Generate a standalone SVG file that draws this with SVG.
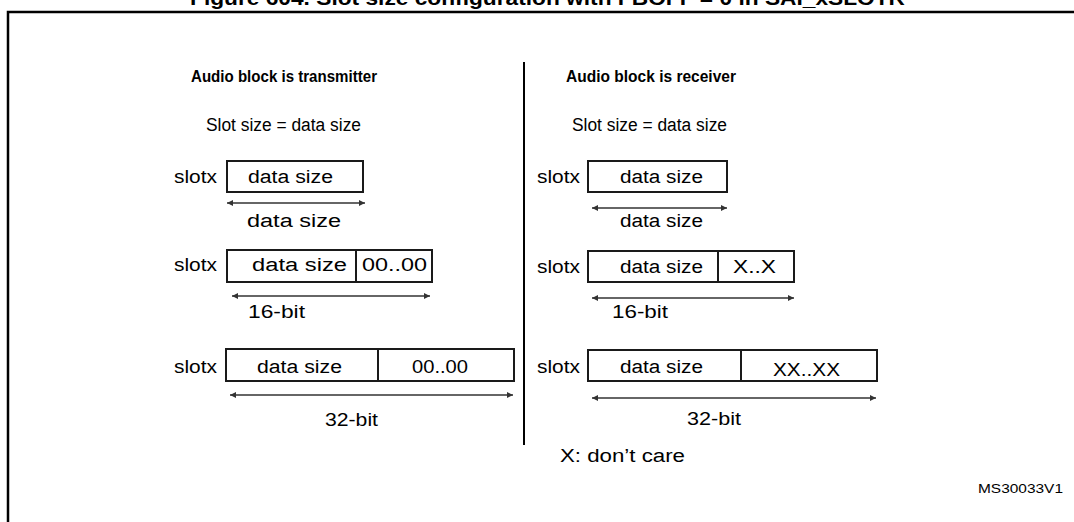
<svg xmlns="http://www.w3.org/2000/svg" width="1074" height="522" viewBox="0 0 1074 522">
<style>
text{font-family:"Liberation Sans",Arial,sans-serif;fill:#000}
.t{font-size:18px}
.b{font-weight:bold;font-size:17px}
.box{fill:#fff;stroke:#1a1a1a;stroke-width:2}
.div{stroke:#1a1a1a;stroke-width:2}
.arr{stroke:#333;stroke-width:1.3;fill:none;marker-start:url(#ah);marker-end:url(#ah)}
.frame{stroke:#000;stroke-width:2.5;fill:none}
</style>
<defs>
<marker id="ah" viewBox="0 0 10 10" refX="10" refY="5" markerWidth="8" markerHeight="6" markerUnits="userSpaceOnUse" orient="auto-start-reverse">
<path d="M0,0 L10,5 L0,10 z" fill="#333"/>
</marker>
</defs>
<rect width="1074" height="522" fill="#fff"/>
<g id="title">
<text x="190" y="5" style="font-weight:bold;font-size:20px" textLength="715" lengthAdjust="spacingAndGlyphs">Figure 604. Slot size configuration with FBOFF = 0 in SAI_xSLOTR</text>
</g>
<g id="frame">
<path class="frame" d="M8,522 V12 H1074"/>
<line x1="524" y1="62" x2="524" y2="445" stroke="#000" stroke-width="2"/>
</g>
<g id="heading-tx">
<text class="b" x="191" y="82" textLength="186" lengthAdjust="spacingAndGlyphs">Audio block is transmitter</text>
<text class="t" x="206" y="131" textLength="155" lengthAdjust="spacingAndGlyphs">Slot size = data size</text>
</g>
<g id="heading-rx">
<text class="b" x="566" y="82" textLength="170" lengthAdjust="spacingAndGlyphs">Audio block is receiver</text>
<text class="t" x="572" y="131" textLength="155" lengthAdjust="spacingAndGlyphs">Slot size = data size</text>
</g>
<g id="tx-row1">
<text class="t" x="174" y="183" textLength="43" lengthAdjust="spacingAndGlyphs">slotx</text>
<rect class="box" x="227" y="161" width="136" height="31"/>
<text class="t" x="248" y="183" textLength="85" lengthAdjust="spacingAndGlyphs">data size</text>
<text class="t" x="247" y="227" textLength="94" lengthAdjust="spacingAndGlyphs">data size</text>
</g>
<g id="tx-row2">
<text class="t" x="174" y="271" textLength="43" lengthAdjust="spacingAndGlyphs">slotx</text>
<rect class="box" x="227" y="250" width="205" height="32"/>
<line class="div" x1="356" y1="250" x2="356" y2="282"/>
<text class="t" x="252" y="271" textLength="95" lengthAdjust="spacingAndGlyphs">data size</text>
<text class="t" x="362" y="271" textLength="65" lengthAdjust="spacingAndGlyphs">00..00</text>
<text class="t" x="248" y="318" textLength="57" lengthAdjust="spacingAndGlyphs">16-bit</text>
</g>
<g id="tx-row3">
<text class="t" x="174" y="373" textLength="43" lengthAdjust="spacingAndGlyphs">slotx</text>
<rect class="box" x="226" y="349" width="288" height="32"/>
<line class="div" x1="378" y1="349" x2="378" y2="381"/>
<text class="t" x="257" y="373" textLength="85" lengthAdjust="spacingAndGlyphs">data size</text>
<text class="t" x="412" y="373" textLength="56" lengthAdjust="spacingAndGlyphs">00..00</text>
<text class="t" x="325" y="426" textLength="53" lengthAdjust="spacingAndGlyphs">32-bit</text>
</g>
<g id="rx-row1">
<text class="t" x="537" y="183" textLength="43" lengthAdjust="spacingAndGlyphs">slotx</text>
<rect class="box" x="588" y="161" width="139" height="31"/>
<text class="t" x="620" y="183" textLength="83" lengthAdjust="spacingAndGlyphs">data size</text>
<text class="t" x="620" y="227" textLength="83" lengthAdjust="spacingAndGlyphs">data size</text>
</g>
<g id="rx-row2">
<text class="t" x="537" y="273" textLength="43" lengthAdjust="spacingAndGlyphs">slotx</text>
<rect class="box" x="588" y="251" width="206" height="31"/>
<line class="div" x1="718" y1="251" x2="718" y2="282"/>
<text class="t" x="620" y="273" textLength="83" lengthAdjust="spacingAndGlyphs">data size</text>
<text class="t" x="733" y="273" textLength="43" lengthAdjust="spacingAndGlyphs">X..X</text>
<text class="t" x="612" y="318" textLength="56" lengthAdjust="spacingAndGlyphs">16-bit</text>
</g>
<g id="rx-row3">
<text class="t" x="537" y="373" textLength="43" lengthAdjust="spacingAndGlyphs">slotx</text>
<rect class="box" x="588" y="350" width="289" height="31"/>
<line class="div" x1="741" y1="350" x2="741" y2="381"/>
<text class="t" x="620" y="373" textLength="83" lengthAdjust="spacingAndGlyphs">data size</text>
<text class="t" x="773" y="376" textLength="67" lengthAdjust="spacingAndGlyphs">XX..XX</text>
<text class="t" x="687" y="425" textLength="54" lengthAdjust="spacingAndGlyphs">32-bit</text>
</g>
<g id="legend">
<text class="t" x="560" y="462" textLength="125" lengthAdjust="spacingAndGlyphs">X: don’t care</text>
<text x="978" y="493" style="font-size:13px" textLength="85" lengthAdjust="spacingAndGlyphs">MS30033V1</text>
</g>
<g id="connectors">
<line class="arr" x1="227" y1="203" x2="365" y2="203"/>
<line class="arr" x1="232" y1="296" x2="430" y2="296"/>
<line class="arr" x1="230" y1="395" x2="513" y2="395"/>
<line class="arr" x1="592" y1="208" x2="727" y2="208"/>
<line class="arr" x1="592" y1="298" x2="794" y2="298"/>
<line class="arr" x1="592" y1="398" x2="876" y2="398"/>
</g>
</svg>
